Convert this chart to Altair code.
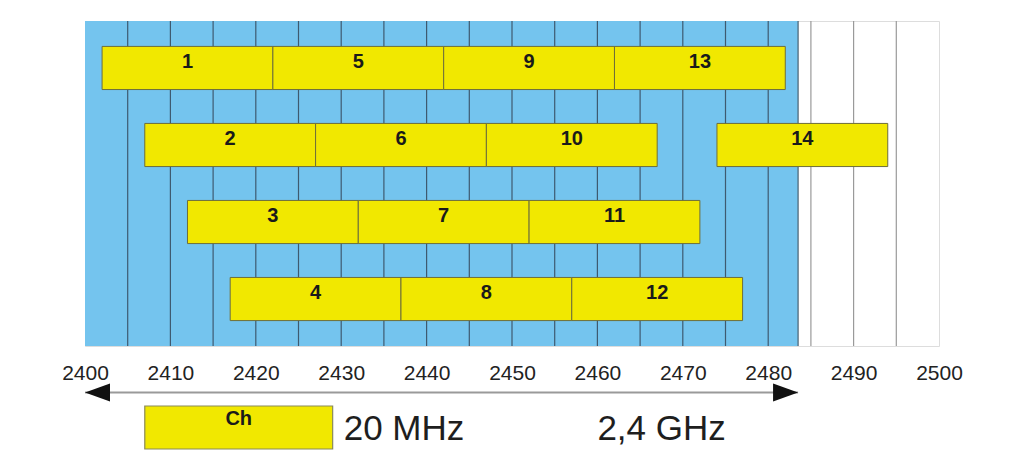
import altair as alt
import pandas as pd

# ---- data ----
channels = list(range(1, 15))
ch_start = [2402, 2407, 2412, 2417, 2422, 2427, 2432, 2437, 2442, 2447, 2452, 2457, 2462, 2474]
ch_end = [2422, 2427, 2432, 2437, 2442, 2447, 2452, 2457, 2462, 2467, 2472, 2477, 2482, 2494]
ch_row = [1, 2, 3, 4, 1, 2, 3, 4, 1, 2, 3, 4, 1, 2]
band_start = [2400]
band_end = [2483.5]
grid_lines = [2405, 2410, 2415, 2420, 2425, 2430, 2435, 2440, 2445, 2450, 2455,
              2460, 2465, 2470, 2475, 2480, 2485, 2490, 2495]
tick_values = [2400, 2410, 2420, 2430, 2440, 2450, 2460, 2470, 2480, 2490, 2500]
legend_box = [2407, 2429]
legend_label = ["Ch"]
width_text = ["20 MHz"]
band_text = ["2,4 GHz"]
band_text_x = [2460]

BLUE = "#74c4ee"
YELLOW = "#f1e800"
X_DOMAIN = [2400, 2500]

ch_df = pd.DataFrame({"ch": channels, "start": ch_start, "end": ch_end, "row": ch_row})
ch_df["mid"] = (ch_df["start"] + ch_df["end"]) / 2
band_df = pd.DataFrame({"start": band_start, "end": band_end})
grid_df = pd.DataFrame({"x": grid_lines})
grid_df["inside"] = grid_df["x"] < band_end[0]
arrow_df = pd.DataFrame({"a": band_start, "b": band_end})
legend_df = pd.DataFrame({"s": [legend_box[0]], "e": [legend_box[1]], "label": legend_label,
                          "w": width_text})
legend_df["m"] = (legend_df["s"] + legend_df["e"]) / 2
ghz_df = pd.DataFrame({"x": band_text_x, "t": band_text})

xs = alt.Scale(domain=X_DOMAIN, nice=False, zero=False)
ys = alt.Scale(domain=[1, 2, 3, 4], paddingInner=0.44, paddingOuter=0.33)

x_axis = alt.Axis(values=tick_values, title=None, grid=False, ticks=False, domain=False,
                  labelFontSize=21, labelFont="Liberation Sans", labelColor="#222222",
                  labelPadding=16, format="d", labelFlush=False)

bg = alt.Chart(band_df).mark_rect(color=BLUE).encode(
    x=alt.X("start:Q", scale=xs, axis=x_axis),
    x2="end:Q",
)
band_edge = alt.Chart(band_df).mark_rule(color="#4a6070", strokeWidth=1.2).encode(
    x=alt.X("end:Q", scale=xs),
)
grid = alt.Chart(grid_df).mark_rule(strokeWidth=1.2).encode(
    x=alt.X("x:Q", scale=xs),
    color=alt.Color("inside:N", scale=alt.Scale(domain=[True, False],
                                                range=["#3e5a70", "#9a9a9a"]), legend=None),
)
bars = alt.Chart(ch_df).mark_rect(color=YELLOW, stroke="#6e6e3a", strokeWidth=1).encode(
    x=alt.X("start:Q", scale=xs),
    x2="end:Q",
    y=alt.Y("row:O", scale=ys, axis=None),
)
labels = alt.Chart(ch_df).mark_text(fontSize=20, fontWeight="bold", font="Liberation Sans",
                                    color="#1a1a1a", baseline="middle", dy=-6).encode(
    x=alt.X("mid:Q", scale=xs),
    y=alt.Y("row:O", scale=ys, axis=None),
    text="ch:N",
)
arrow_line = alt.Chart(arrow_df).mark_rule(color="#9a9a9a", strokeWidth=2).encode(
    x=alt.X("a:Q", scale=xs), x2="b:Q", y=alt.value(371.5),
)
arrow_left = alt.Chart(arrow_df).mark_point(
    shape="M 0 0 L 2 -0.72 L 2 0.72 Z", size=625, filled=True, color="#111111", opacity=1
).encode(x=alt.X("a:Q", scale=xs), y=alt.value(371.5))
arrow_right = alt.Chart(arrow_df).mark_point(
    shape="M 0 0 L -2 -0.72 L -2 0.72 Z", size=625, filled=True, color="#111111", opacity=1
).encode(x=alt.X("b:Q", scale=xs), y=alt.value(371.5))
leg_box = alt.Chart(legend_df).mark_rect(color=YELLOW, stroke="#8a8a5a", strokeWidth=1.2).encode(
    x=alt.X("s:Q", scale=xs), x2="e:Q", y=alt.value(385), y2=alt.value(428),
)
leg_label = alt.Chart(legend_df).mark_text(fontSize=20, fontWeight="bold", font="Liberation Sans",
                                           color="#1a1a1a", baseline="middle").encode(
    x=alt.X("m:Q", scale=xs), y=alt.value(398), text="label:N",
)
leg_text = alt.Chart(legend_df).mark_text(fontSize=35, font="Liberation Sans", color="#1e1e1e",
                                          align="left", baseline="alphabetic", dx=11).encode(
    x=alt.X("e:Q", scale=xs), y=alt.value(419), text="w:N",
)
ghz = alt.Chart(ghz_df).mark_text(fontSize=35, font="Liberation Sans", color="#1e1e1e",
                                  align="left", baseline="alphabetic").encode(
    x=alt.X("x:Q", scale=xs), y=alt.value(419), text="t:N",
)

chart = alt.layer(
    bg, grid, band_edge, bars, labels, arrow_line, arrow_left, arrow_right,
    leg_box, leg_label, leg_text, ghz,
).properties(
    width=854, height=325,
    autosize=alt.AutoSizeParams(type="none"),
    padding={"left": 77, "top": 13, "right": 70, "bottom": 120},
).configure_view(
    stroke="#8a8a8a", strokeWidth=1.2, fill="white",
).configure(background="white")

chart.save("out.html", embed_options={"renderer": "svg", "actions": False})
